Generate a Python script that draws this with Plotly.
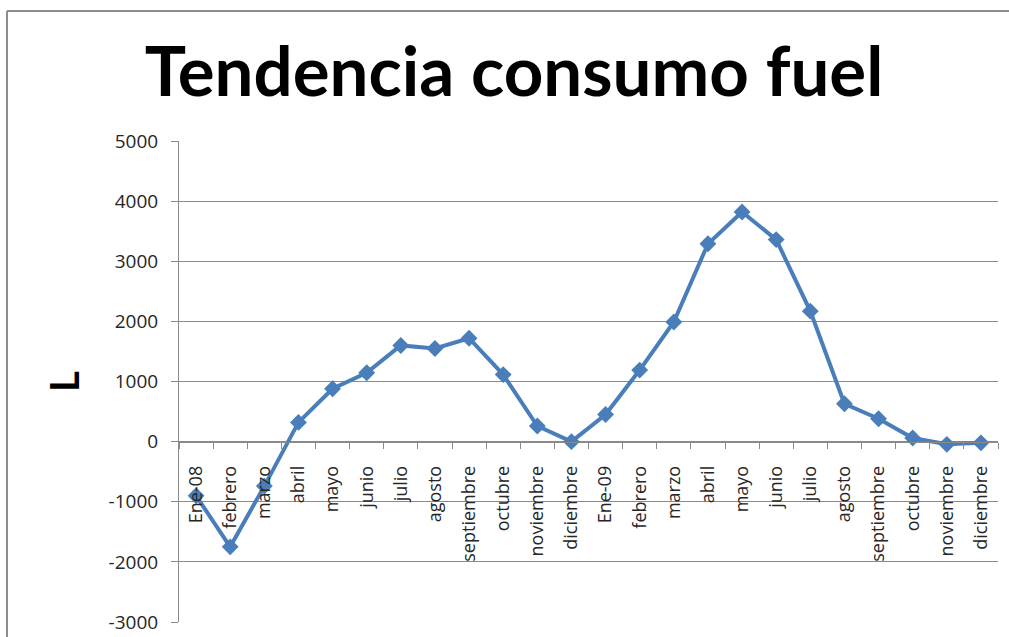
import plotly.graph_objects as go

# Monthly fuel consumption trend, 2008-2009 (litres)
months = ["Ene-08", "febrero", "marzo", "abril", "mayo", "junio", "julio",
          "agosto", "septiembre", "octubre", "noviembre", "diciembre",
          "Ene-09", "febrero", "marzo", "abril", "mayo", "junio", "julio",
          "agosto", "septiembre", "octubre", "noviembre", "diciembre"]
consumo = [-900, -1750, -740, 320, 880, 1145, 1600, 1550, 1720, 1115, 260, 0,
           450, 1190, 1990, 3290, 3820, 3360, 2170, 630, 380, 60, -45, -20]
y_ticks = [-3000, -2000, -1000, 0, 1000, 2000, 3000, 4000, 5000]
y_tick_labels = ["-3000", "-2000", "-1000", "0", "1000", "2000", "3000", "4000", "5000"]

W, H = 1009, 637
ML, MR, MT, MB = 179, 11, 141, 15
Y_MIN, Y_MAX = -3000, 5000

idx = list(range(len(months)))
blue = "#4A7EBB"
grid = "#8A8A8A"
txt = "#262626"
font_fam = "Open Sans, DejaVu Sans, sans-serif"

fig = go.Figure(go.Scatter(
    x=idx, y=consumo, mode="lines+markers",
    line=dict(color=blue, width=4),
    marker=dict(symbol="diamond", size=13, color=blue),
    hoverinfo="y",
))

# x axis crosses the value axis at zero
zero_pos = (0 - Y_MIN) / (Y_MAX - Y_MIN)

pw = W - ML - MR
ph = H - MT - MB


def px_x(p):
    return (p - ML) / pw


def px_y(p):
    return (H - MB - p) / ph


fig.update_layout(
    width=W, height=H,
    margin=dict(l=ML, r=MR, t=MT, b=MB, pad=0, autoexpand=False),
    paper_bgcolor="white", plot_bgcolor="white",
    showlegend=False,
    title=dict(
        text="<b>Tendencia consumo fuel</b>",
        font=dict(family="Lato, Open Sans, sans-serif", size=69, color="black"),
        x=514 / W, xref="container", xanchor="center",
        y=1 - 72 / H, yref="container", yanchor="middle",
    ),
    xaxis=dict(
        range=[-0.5, len(months) - 0.5],
        tickmode="array", tickvals=idx, ticktext=months,
        tickangle=-90,
        ticks="", ticklabelstandoff=16,
        tickfont=dict(family=font_fam, size=18, color=txt),
        showgrid=False, zeroline=False,
        showline=True, linecolor=grid, linewidth=1,
        anchor="free", position=zero_pos, automargin=False,
        minor=dict(tickmode="linear", tick0=-0.5, dtick=1,
                   ticks="outside", ticklen=6, tickcolor=grid, tickwidth=1,
                   showgrid=False),
    ),
    yaxis=dict(
        range=[Y_MIN, Y_MAX],
        tickmode="array", tickvals=y_ticks, ticktext=y_tick_labels,
        ticks="outside", ticklen=7, tickcolor=grid, tickwidth=1,
        ticklabelstandoff=9, automargin=False,
        tickfont=dict(family=font_fam, size=19, color=txt),
        showgrid=True, gridcolor=grid, gridwidth=1,
        zeroline=False,
        showline=True, linecolor=grid, linewidth=1,
        title=dict(text="<b>L</b>", standoff=16,
                   font=dict(family="Lato, Open Sans, sans-serif", size=40, color="black")),
    ),
)

# outer chart frame (top and left edges)
frame = dict(color="#8C8C8C", width=2)
fig.add_shape(type="line", xref="paper", yref="paper",
              x0=px_x(7), x1=px_x(W + 5), y0=px_y(11), y1=px_y(11), line=frame)
fig.add_shape(type="line", xref="paper", yref="paper",
              x0=px_x(7), x1=px_x(7), y0=px_y(11), y1=px_y(H + 5), line=frame)

fig.write_html("out.html")
